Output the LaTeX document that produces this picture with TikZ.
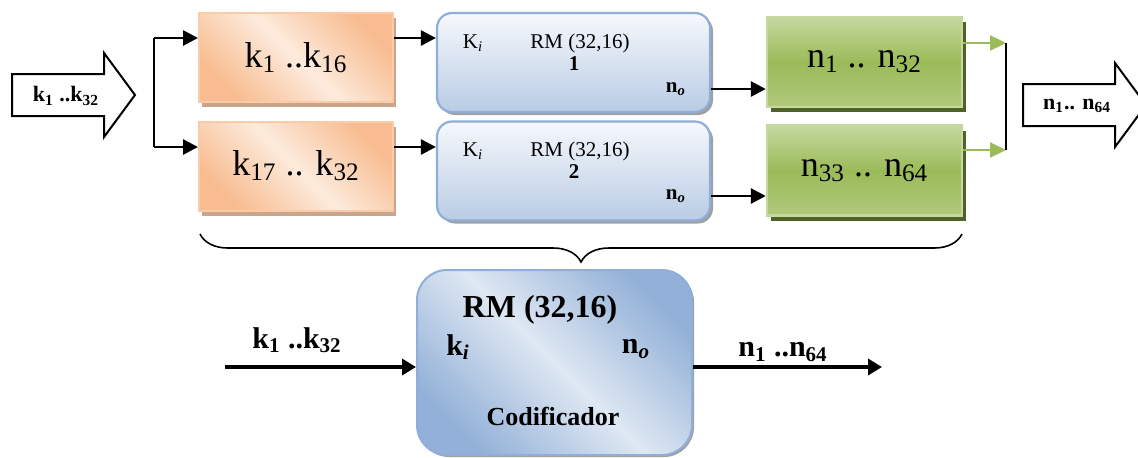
\documentclass[tikz,border=0pt]{standalone}
\usepackage{fontspec}
\setmainfont{Liberation Serif}
\usepackage{xcolor}
\usetikzlibrary{arrows.meta,positioning,calc,shadows,decorations.pathreplacing}
\definecolor{orangedark}{HTML}{F8BC90}
\definecolor{orangelight}{HTML}{FDEBDD}
\definecolor{orangeline}{HTML}{F9CBA8}
\definecolor{orangeshadow}{HTML}{C9A58C}
\definecolor{bluetop}{HTML}{F6F8FC}
\definecolor{bluebottom}{HTML}{B9CCE4}
\definecolor{blueline}{HTML}{8FAED8}
\definecolor{bluedark}{HTML}{93B1D8}
\definecolor{bluelight}{HTML}{DFE8F3}
\definecolor{greenmid}{HTML}{9BBB59}
\definecolor{greenlight}{HTML}{C5D89F}
\definecolor{greenlow}{HTML}{B0C97C}
\definecolor{greenshadow}{HTML}{4F6228}
\definecolor{greyshadow}{HTML}{A0A0A0}

\begin{document}
\begin{tikzpicture}[x=0.5pt,y=-0.5pt,
  keybox/.style={rectangle, draw=orangeline, line width=1pt, minimum width=97pt, minimum height=44.5pt, top color=orangedark, bottom color=orangedark, middle color=orangelight, shading angle=-45, drop shadow={shadow xshift=1.5pt, shadow yshift=-2.5pt, fill=orangeshadow, opacity=1}, font=\fontsize{18}{21}\selectfont},
  rmbox/.style={rectangle, rounded corners=7.5pt, draw=blueline, line width=1.1pt, minimum width=136.5pt, minimum height=49.5pt, top color=bluetop, bottom color=bluebottom, drop shadow={shadow xshift=1.5pt, shadow yshift=-1.5pt, fill=greyshadow, opacity=1}},
  outbox/.style={rectangle, draw=greenlight, line width=1.2pt, minimum width=97.5pt, minimum height=45pt, top color=greenlight, bottom color=greenlow, middle color=greenmid, drop shadow={shadow xshift=2pt, shadow yshift=-2.5pt, fill=greenshadow, opacity=1}, font=\fontsize{18}{21}\selectfont},
  encbox/.style={rectangle, rounded corners=15pt, draw=blueline, line width=1pt, minimum width=137.5pt, minimum height=92.5pt, top color=bluedark, bottom color=bluedark, middle color=bluelight, shading angle=-45, drop shadow={shadow xshift=1pt, shadow yshift=-1pt, fill=greyshadow, opacity=1}},
  small/.style={inner sep=0pt, font=\fontsize{10.5}{12}\selectfont},
  bigbold/.style={inner sep=0pt, font=\fontsize{15}{18}\selectfont\bfseries},
  blockarrow/.style={draw, line width=1pt, fill=white},
  arr/.style={-{Triangle[length=7.5pt,width=7.5pt]}, line width=1.4pt},
  greenarr/.style={-{Triangle[length=8pt,width=7.5pt]}, line width=1.1pt, greenmid},
  thickarr/.style={-{Triangle[length=7pt,width=8pt]}, line width=2pt}
]
  \useasboundingbox (0,0) rectangle (1138,457);

  % input block arrow
  \draw[blockarrow] (12,74) -- (104,74) -- (104,53) -- (135,95) -- (104,137) -- (104,116) -- (12,116) -- cycle;
  \node[inner sep=0pt, font=\fontsize{11}{13}\selectfont\bfseries] (inlbl) at (66,96) {k\textsubscript{1} ..k\textsubscript{32}};

  % key halves
  \node[keybox] (k1) at (296,57.5) {k\textsubscript{1} ..k\textsubscript{16}};
  \node[keybox] (k2) at (296,166) {k\textsubscript{17} .. k\textsubscript{32}};

  % RM encoders
  \node[rmbox] (rm1) at (573.5,62.5) {};
  \node[rmbox] (rm2) at (573.5,171) {};
  \node[small] (rm1ki) at (473,43) {K\textsubscript{\textit{i}}};
  \node[small] (rm1name) at (580,43) {RM (32,16)};
  \node[small, font=\fontsize{10.5}{12}\selectfont\bfseries] (rm1num) at (574,64) {1};
  \node[small, font=\fontsize{10.5}{12}\selectfont\bfseries] (rm1no) at (676,89) {n\textsubscript{\textit{o}}};
  \node[small] (rm2ki) at (473,151) {K\textsubscript{\textit{i}}};
  \node[small] (rm2name) at (580,151) {RM (32,16)};
  \node[small, font=\fontsize{10.5}{12}\selectfont\bfseries] (rm2num) at (574,172) {2};
  \node[small, font=\fontsize{10.5}{12}\selectfont\bfseries] (rm2no) at (676,196) {n\textsubscript{\textit{o}}};

  % codeword halves
  \node[outbox] (n1) at (864.5,62) {n\textsubscript{1} .. n\textsubscript{32}};
  \node[outbox] (n2) at (864.5,170.5) {n\textsubscript{33} .. n\textsubscript{64}};

  % output block arrow
  \draw[blockarrow] (1023,84) -- (1115,84) -- (1115,63) -- (1146,105) -- (1115,147) -- (1115,126) -- (1023,126) -- cycle;
  \node[inner sep=0pt, font=\fontsize{11}{13}\selectfont\bfseries] (outlbl) at (1077,106) {n\textsubscript{1}.. n\textsubscript{64}};

  % split and join
  \coordinate (splittop) at (154,38);
  \coordinate (splitbot) at (154,147);
  \coordinate (jointop) at (1006,43);
  \coordinate (joinbot) at (1006,150);
  \draw[line width=1.4pt] (splittop) -- (splitbot);
  \draw[arr] (splittop) -- (k1.west |- splittop);
  \draw[arr] (splitbot) -- (k2.west |- splitbot);
  \draw[arr] (k1.east |- splittop) -- (rm1.west |- splittop);
  \draw[arr] (k2.east |- splitbot) -- (rm2.west |- splitbot);
  \draw[arr] (rm1.east |- rm1no) -- (n1.west |- rm1no);
  \draw[arr] (rm2.east |- rm2no) -- (n2.west |- rm2no);
  \draw[greenarr] (n1.east |- jointop) -- (jointop);
  \draw[greenarr] (n2.east |- joinbot) -- (joinbot);
  \draw[line width=0.9pt] (jointop) -- (joinbot);

  % brace
  \coordinate (braceleft) at (200,234);
  \coordinate (braceright) at (962,234);
  \draw[line width=0.8pt, decorate, decoration={brace, mirror, amplitude=14pt}] (braceleft) -- (braceright);

  % whole encoder
  \node[encbox] (enc) at (554.5,362.5) {};
  \node[bigbold, font=\fontsize{16}{19}\selectfont\bfseries] (encname) at (540,310) {RM (32,16)};
  \node[bigbold] (encki) at (458,347) {k\textsubscript{\textit{i}}};
  \node[bigbold] (encno) at (636,349) {n\textsubscript{\textit{o}}};
  \node[bigbold, font=\fontsize{13}{16}\selectfont\bfseries] (enclbl) at (553,416) {Codificador};

  \coordinate (encin) at (225,367);
  \coordinate (encout) at (882,367);
  \draw[thickarr] (encin) -- (enc.west |- encin);
  \draw[thickarr] (enc.east |- encout) -- (encout);
  \node[bigbold] (inbits) at (297,340) {k\textsubscript{1} ..k\textsubscript{32}};
  \node[bigbold] (outbits) at (783,352) {n\textsubscript{1} ..n\textsubscript{64}};
\end{tikzpicture}
\end{document}
